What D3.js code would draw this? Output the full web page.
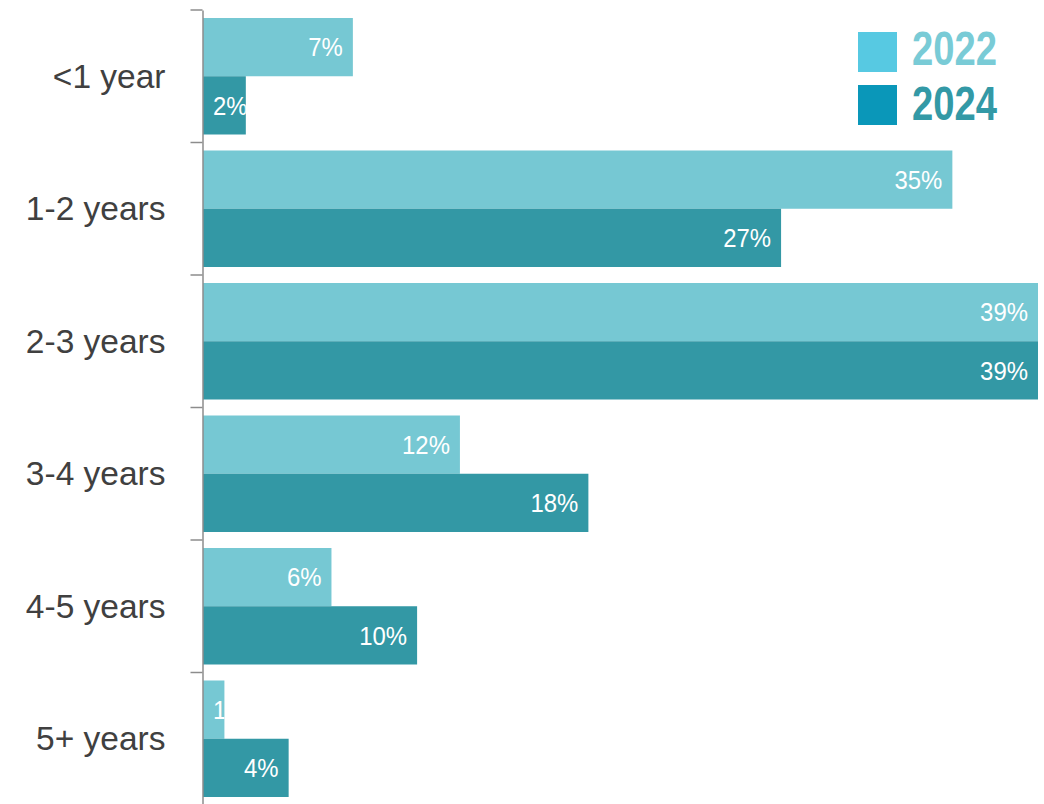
<!DOCTYPE html>
<html>
<head>
<meta charset="utf-8">
<script src="https://cdn.jsdelivr.net/npm/d3@7"></script>
<style>
  html, body { margin: 0; padding: 0; background: #ffffff; }
  svg { display: block; }
</style>
</head>
<body>
<script>
// Tenure categories and share of respondents (%) per survey year
const categories = ["<1 year", "1-2 years", "2-3 years", "3-4 years", "4-5 years", "5+ years"];
const seriesNames = ["2022", "2024"];
const values2022 = [7, 35, 39, 12, 6, 1];
const values2024 = [2, 27, 39, 18, 10, 4];

const W = 1044, H = 804;
const barColors = { "2022": "#76c8d3", "2024": "#3398a5" };
const swatchColors = { "2022": "#57c9e2", "2024": "#0a97b9" };
const legendTextColors = { "2022": "#79cbd6", "2024": "#3399a6" };

const svg = d3.select("body").append("svg")
  .attr("width", W).attr("height", H);

const x = d3.scaleLinear().domain([0, 39]).range([203, 1038]);
const y = d3.scaleBand().domain(categories).range([10, 805]).padding(0);
const ySub = d3.scaleBand().domain(seriesNames).range([8, y.bandwidth() - 8]).padding(0);

const rows = categories.map((c, i) => ({
  category: c,
  bars: [
    { series: "2022", value: values2022[i] },
    { series: "2024", value: values2024[i] }
  ]
}));

// Bars, each with its value label clipped to the bar
const defs = svg.append("defs");
const barLayer = svg.append("g");

let clipId = 0;
rows.forEach(row => {
  row.bars.forEach(b => {
    const x0 = x(0), x1 = x(b.value);
    const by = y(row.category) + ySub(b.series), bh = ySub.bandwidth();
    const id = "bar-clip-" + (clipId++);
    defs.append("clipPath").attr("id", id)
      .append("rect")
      .attr("x", x0).attr("y", by)
      .attr("width", x1 - x0).attr("height", bh);

    barLayer.append("rect")
      .attr("x", x0).attr("y", by)
      .attr("width", x1 - x0).attr("height", bh)
      .attr("fill", barColors[b.series]);

    const label = barLayer.append("text")
      .attr("clip-path", `url(#${id})`)
      .attr("y", by + bh / 2)
      .attr("dy", "0.36em")
      .attr("fill", "#ffffff")
      .style("font-family", "'Liberation Sans', Arial, sans-serif")
      .style("font-size", "26px")
      .text(b.value + "%");
    const tw = label.node().getComputedTextLength() * 0.92;
    label.attr("textLength", tw).attr("lengthAdjust", "spacingAndGlyphs");
    if (tw + 20 <= x1 - x0) {
      label.attr("x", x1 - 10).attr("text-anchor", "end");
    } else {
      label.attr("x", x0 + 10).attr("text-anchor", "start");
    }
  });
});

// Left category axis
const axis = d3.axisLeft(y).tickSize(0).tickPadding(37);
const axisG = svg.append("g")
  .attr("transform", "translate(202.5,0)")
  .call(axis);
axisG.select(".domain").attr("stroke", "#8c8c8c").attr("stroke-width", 1.5);
axisG.selectAll(".tick text")
  .attr("fill", "#404040")
  .attr("dy", "0.34em")
  .style("font-family", "'Liberation Sans', Arial, sans-serif")
  .style("font-size", "33.5px");

// Tick marks on band boundaries
const boundaries = categories.map(c => y(c)).concat([y.range()[1]]);
axisG.selectAll("line.boundary").data(boundaries).join("line")
  .attr("class", "boundary")
  .attr("x1", -12).attr("x2", 0)
  .attr("y1", d => d).attr("y2", d => d)
  .attr("stroke", "#8c8c8c").attr("stroke-width", 1.5);

// Legend
const legend = svg.append("g");
const legendRows = [
  { series: "2022", top: 32, baseline: 65 },
  { series: "2024", top: 85, baseline: 120 }
];
legendRows.forEach(r => {
  legend.append("rect")
    .attr("x", 858).attr("y", r.top)
    .attr("width", 39).attr("height", 40)
    .attr("fill", swatchColors[r.series]);
  legend.append("text")
    .attr("x", 912).attr("y", r.baseline)
    .attr("fill", legendTextColors[r.series])
    .attr("textLength", 85).attr("lengthAdjust", "spacingAndGlyphs")
    .style("font-family", "'Liberation Sans', Arial, sans-serif")
    .style("font-size", "48px")
    .style("font-weight", "bold")
    .text(r.series);
});
</script>
</body>
</html>
